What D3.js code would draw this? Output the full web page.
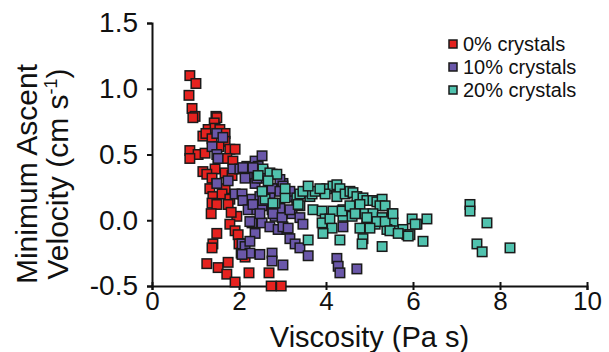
<!DOCTYPE html>
<html>
<head>
<meta charset="utf-8">
<script src="https://cdn.jsdelivr.net/npm/d3@7"></script>
<style>
  html, body { margin: 0; padding: 0; background: #fff; }
  svg { display: block; font-family: "Liberation Sans", Arial, Helvetica, sans-serif; }
</style>
</head>
<body>
<svg id="chart" width="609" height="352"></svg>
<script>
// Minimum ascent velocity (cm/s) vs. melt viscosity (Pa s), by crystal content
const seriesNames = ["0% crystals", "10% crystals", "20% crystals"];
const seriesColors = ["#e5221f", "#6a57a9", "#50c2ae"];

const crystals0 = [
  [0.87,1.10],[1.01,1.04],[0.85,0.95],[0.92,0.85],[0.99,0.79],[0.94,0.78],
  [1.47,0.79],[1.49,0.78],[1.43,0.74],[1.29,0.69],[1.45,0.70],[1.56,0.69],
  [1.17,0.64],[1.24,0.66],[1.68,0.66],[1.38,0.62],[1.68,0.60],[1.79,0.54],
  [1.91,0.54],[1.54,0.56],[0.87,0.53],[1.06,0.50],[0.87,0.47],[1.22,0.51],
  [1.52,0.47],[1.72,0.47],[1.86,0.45],[1.17,0.37],[1.45,0.39],[1.68,0.36],
  [1.26,0.35],[1.38,0.32],[1.84,0.34],[1.49,0.28],[1.33,0.24],[1.68,0.24],
  [1.40,0.18],[1.61,0.20],[1.79,0.16],[1.38,0.13],[1.49,0.12],[1.75,0.12],
  [1.36,0.05],[1.95,0.03],[1.82,0.06],[1.79,-0.03],[1.91,-0.08],[1.49,-0.10],
  [1.98,-0.11],[1.40,-0.18],[2.07,-0.18],[2.00,-0.18],[2.05,-0.25],[2.14,-0.28],
  [1.38,-0.21],[1.26,-0.33],[1.52,-0.36],[1.75,-0.32],[1.72,-0.41],[1.91,-0.47],
  [2.23,-0.40],[2.69,-0.40],[2.74,-0.50],[2.97,-0.50]
];

const crystals10 = [
  [1.49,0.66],[1.63,0.63],[1.38,0.56],[1.49,0.50],[1.52,0.47],[1.86,0.39],
  [2.02,0.39],[2.18,0.41],[2.37,0.45],[2.44,0.41],[2.25,0.35],[2.14,0.32],
  [2.37,0.28],[2.53,0.32],[1.49,0.28],[1.75,0.30],[1.91,0.20],[2.07,0.20],
  [2.09,0.15],[2.30,0.16],[2.48,0.18],[2.67,0.21],[2.90,0.24],[3.01,0.28],
  [2.21,0.08],[2.41,0.08],[2.53,0.11],[2.76,0.08],[2.83,0.03],[2.99,0.05],
  [2.30,-0.02],[2.53,-0.02],[2.71,-0.05],[2.90,-0.07],[3.10,-0.07],[2.37,-0.10],
  [3.17,-0.14],[2.07,-0.18],[3.29,-0.18],[2.14,-0.20],[2.25,-0.25],[2.07,-0.26],
  [2.48,-0.26],[2.76,-0.25],[2.76,-0.31],[3.01,-0.34],[2.41,0.32],[2.25,0.40],
  [2.09,0.40],[2.55,0.37],[2.76,0.35],[2.94,0.31],[3.01,0.26],[2.76,0.24],
  [3.17,0.18],[3.33,0.12],[3.22,0.05],[2.94,0.09],[2.32,0.40],[2.64,0.35],
  [3.17,0.22],[2.94,0.22],[2.71,0.17],[2.55,0.15],[2.32,0.12],[2.25,-0.01],
  [2.48,0.05],[2.78,0.05],[2.99,0.02],[3.17,0.08],[3.40,0.02],[3.47,-0.03],
  [3.01,-0.05],[3.13,-0.06],[3.40,-0.21],[3.59,-0.27],[2.25,-0.16],[4.25,-0.29],
  [4.28,-0.35],[4.32,-0.40],[4.71,-0.37],[4.39,-0.05],[2.53,0.49]
];

const crystals20 = [
  [2.55,0.39],[2.71,0.36],[2.87,0.35],[2.44,0.34],[2.67,0.30],[3.06,0.17],
  [2.60,0.16],[2.83,0.13],[3.33,0.17],[3.40,0.20],[3.63,0.18],[3.40,0.11],
  [3.70,0.08],[3.91,0.07],[3.98,0.01],[3.91,-0.02],[3.68,0.20],[3.47,0.22],
  [3.75,0.22],[4.02,0.24],[4.16,0.26],[4.25,0.27],[4.32,0.24],[4.25,0.18],
  [4.44,0.20],[4.55,0.22],[4.62,0.21],[4.71,0.18],[4.85,0.17],[4.94,0.15],
  [5.08,0.15],[5.17,0.14],[5.29,0.16],[5.24,0.11],[5.36,0.11],[4.78,0.12],
  [4.39,0.08],[4.16,0.07],[4.09,0.01],[4.14,-0.06],[4.39,0.03],[4.60,0.03],
  [4.71,0.05],[4.90,0.05],[5.08,0.05],[4.94,-0.03],[5.13,-0.03],[5.29,0.02],
  [5.52,0.05],[5.54,-0.02],[5.40,-0.07],[5.63,-0.08],[5.77,-0.07],[5.86,-0.11],
  [5.98,0.01],[6.09,-0.03],[6.32,0.01],[6.23,-0.16],[5.93,-0.11],[5.29,-0.20],
  [4.85,-0.14],[4.83,-0.18],[4.32,-0.15],[3.93,-0.10],[3.59,-0.15],[3.06,0.24],
  [2.53,0.22],[2.78,0.13],[3.36,0.12],[3.98,0.20],[4.37,0.07],[4.55,0.11],
  [4.67,0.05],[4.94,0.02],[5.17,-0.01],[5.36,-0.01],[5.47,-0.08],[5.66,-0.10],
  [6.05,-0.03],[4.78,-0.06],[5.01,-0.06],[5.54,0.05],[5.89,-0.12],[7.31,0.12],
  [7.31,0.07],[7.70,-0.02],[7.47,-0.18],[7.59,-0.24],[8.23,-0.21],[3.59,0.26],
  [3.86,0.24]
];

const xTicks = [0, 2, 4, 6, 8, 10];
const yTicks = [-0.5, 0.0, 0.5, 1.0, 1.5];

const svg = d3.select("#chart");
const margin = { left: 152, right: 22, top: 23, bottom: 66 };
const W = 609, H = 352;

const x = d3.scaleLinear().domain([0, 10]).range([margin.left, W - margin.right]);
const y = d3.scaleLinear().domain([-0.5, 1.5]).range([H - margin.bottom, margin.top]);

// Axes
const xAxis = svg.append("g")
  .attr("transform", `translate(0,${y(-0.5)})`)
  .call(d3.axisBottom(x).tickValues(xTicks).tickFormat(d3.format("d")).tickSize(4).tickPadding(2));
xAxis.selectAll(".tick line").attr("y1", -4);

const yAxis = svg.append("g")
  .attr("transform", `translate(${x(0)},0)`)
  .call(d3.axisLeft(y).tickValues(yTicks).tickFormat(d3.format(".1f")).tickSize(5).tickPadding(9));

[xAxis, yAxis].forEach(g => {
  g.select(".domain").attr("stroke", "#111").attr("stroke-width", 2);
  g.selectAll(".tick line").attr("stroke", "#111").attr("stroke-width", 2);
  g.selectAll(".tick text")
    .attr("fill", "#111")
    .style("font-family", "'Liberation Sans', Arial, sans-serif");
});
xAxis.selectAll(".tick text").style("font-size", "26px");
yAxis.selectAll(".tick text").style("font-size", "28px")
  .text(d => d < 0 ? "-" + Math.abs(d).toFixed(1) : d.toFixed(1));

// Axis titles
svg.append("text")
  .attr("x", (x(0) + x(10)) / 2)
  .attr("y", 347)
  .attr("text-anchor", "middle")
  .style("font-size", "29px")
  .attr("fill", "#111")
  .text("Viscosity (Pa s)");

const yTitle = svg.append("g").attr("transform", "translate(0,174) rotate(-90)");
yTitle.append("text")
  .attr("x", 0).attr("y", 37)
  .attr("text-anchor", "middle")
  .style("font-size", "30px")
  .attr("fill", "#111")
  .text("Minimum Ascent");
const t2 = yTitle.append("text")
  .attr("x", 0).attr("y", 68)
  .attr("text-anchor", "middle")
  .style("font-size", "30px")
  .attr("fill", "#111");
t2.append("tspan").text("Velocity (cm s");
t2.append("tspan").attr("dy", -11).style("font-size", "18px").text("-1");
t2.append("tspan").attr("dy", 11).text(")");

// Points: 0% first, 20% on top
const allSeries = [crystals0, crystals10, crystals20];
const size = 9.5;
allSeries.forEach((pts, i) => {
  svg.append("g").selectAll("rect")
    .data(pts)
    .join("rect")
    .attr("x", d => x(d[0]) - size / 2)
    .attr("y", d => y(d[1]) - size / 2)
    .attr("width", size)
    .attr("height", size)
    .attr("fill", seriesColors[i])
    .attr("stroke", "#1a1a1a")
    .attr("stroke-width", 1.5);
});

// Legend
const legend = svg.append("g").attr("transform", "translate(453,44)");
seriesNames.forEach((name, i) => {
  const row = legend.append("g").attr("transform", `translate(0,${i * 23})`);
  row.append("rect")
    .attr("x", -4).attr("y", -4).attr("width", 8).attr("height", 8)
    .attr("fill", seriesColors[i]).attr("stroke", "#1a1a1a").attr("stroke-width", 1.5);
  row.append("text")
    .attr("x", 10).attr("y", 7)
    .style("font-size", "20px")
    .attr("fill", "#111")
    .text(name);
});
</script>
</body>
</html>
